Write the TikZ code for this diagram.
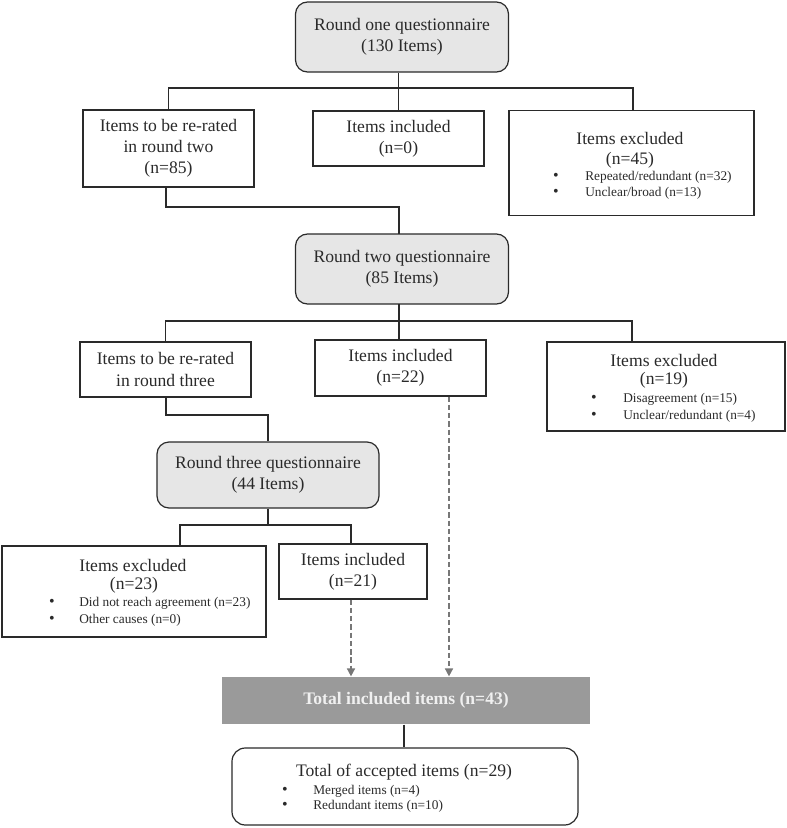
\documentclass[tikz,border=0pt]{standalone}
\usepackage{fontspec}
\setmainfont{Liberation Serif}
\usetikzlibrary{arrows.meta}
\definecolor{ink}{HTML}{2A2A2A}
\definecolor{qfill}{HTML}{E6E6E6}
\definecolor{totfill}{HTML}{9A9A9A}
\definecolor{dashc}{HTML}{777777}
\tikzset{
  box/.style={draw=ink, line width=0.9pt, inner sep=0pt, align=center, text=ink,
    font=\fontsize{13.2}{15.8}\selectfont},
  qbox/.style={box, fill=qfill, rounded corners=9pt},
  txt/.style={inner sep=0pt, text=ink, font=\fontsize{13.2}{15.8}\selectfont},
  bt/.style={inner sep=0pt, text=ink, font=\fontsize{10}{12}\selectfont},
  bul/.style={inner sep=0pt, text=ink, font=\fontsize{12}{12}\selectfont,
    text height=0.45em, text depth=0pt},
  conn/.style={draw=ink, line width=1.4pt},
  darr/.style={draw=dashc, line width=1.2pt, dash pattern=on 4pt off 2.2pt,
    -{Triangle[length=6pt,width=6pt]}},
}
\begin{document}
\begin{tikzpicture}[x=0.75pt,y=-0.75pt]
\useasboundingbox (0,0) rectangle (787,828);
% ---------- Round one ----------
\node[qbox, minimum width=213*0.75pt, minimum height=70*0.75pt] (r1) at (402,37)
  {Round one questionnaire\\(130 Items)};
\node[box, minimum width=171*0.75pt, minimum height=77*0.75pt] (a1) at (168.5,148.5)
  {Items to be re-rated\\in round two\\(n=85)};
\node[box, minimum width=171*0.75pt, minimum height=55*0.75pt] (i0) at (398.5,138.5)
  {Items included\\(n=0)};
\node[box, minimum width=245*0.75pt, minimum height=105*0.75pt] (e1) at (631.5,163) {};
\node[txt] (e1t) at (630,138) {Items excluded};
\node[txt] (e1n) at (630,160) {(n=45)};
\node[bul] (e1b1) at (556,177) {\textbullet};
\node[bt, anchor=west] (e1l1) at (585,177) {Repeated/redundant (n=32)};
\node[bul] (e1b2) at (556,193) {\textbullet};
\node[bt, anchor=west] (e1l2) at (585,193) {Unclear/broad (n=13)};
\coordinate (j1) at (398,88);
\draw[conn] (r1.south -| i0.north) -- (i0.north);
\draw[conn] (a1.north) -- (a1.north |- j1) -- (633,88) -- (633,111);
% ---------- Round two ----------
\node[qbox, minimum width=213*0.75pt, minimum height=70*0.75pt] (r2) at (402,269)
  {Round two questionnaire\\(85 Items)};
\coordinate (j2) at (166,207);
\draw[conn] (a1.south -| j2) -- (j2) -- (j2 -| 399,0) -- (399,234);
\node[box, minimum width=171*0.75pt, minimum height=55*0.75pt] (a2) at (165.5,369.5)
  {Items to be re-rated\\in round three};
\node[box, minimum width=171*0.75pt, minimum height=56*0.75pt] (i22) at (400.5,368)
  {Items included\\(n=22)};
\node[box, minimum width=238*0.75pt, minimum height=89*0.75pt] (e2) at (666,386.5) {};
\node[txt] (e2t) at (664,360) {Items excluded};
\node[txt] (e2n) at (664,380) {(n=19)};
\node[bul] (e2b1) at (594,399) {\textbullet};
\node[bt, anchor=west] (e2l1) at (623,399) {Disagreement (n=15)};
\node[bul] (e2b2) at (594,416) {\textbullet};
\node[bt, anchor=west] (e2l2) at (623,416) {Unclear/redundant (n=4)};
\coordinate (j3) at (399,321);
\draw[conn] (399,304) -- (399,340);
\draw[conn] (a2.north) -- (a2.north |- j3) -- (632,321) -- (632,342);
% ---------- Round three ----------
\node[qbox, minimum width=222*0.75pt, minimum height=66*0.75pt] (r3) at (268,475)
  {Round three questionnaire\\(44 Items)};
\coordinate (j4) at (166,415);
\draw[conn] (a2.south -| j4) -- (j4) -- (j4 -| r3.north) -- (r3.north);
\node[box, minimum width=264*0.75pt, minimum height=91*0.75pt] (e3) at (134,591.5) {};
\node[txt] (e3t) at (133,565) {Items excluded};
\node[txt] (e3n) at (134,585) {(n=23)};
\node[bul] (e3b1) at (52,603) {\textbullet};
\node[bt, anchor=west] (e3l1) at (79,603) {Did not reach agreement (n=23)};
\node[bul] (e3b2) at (52,620) {\textbullet};
\node[bt, anchor=west] (e3l2) at (79,620) {Other causes (n=0)};
\node[box, minimum width=148*0.75pt, minimum height=55*0.75pt] (i21) at (353,571.5)
  {Items included\\(n=21)};
\coordinate (j5) at (268,525);
\draw[conn] (r3.south) -- (j5);
\draw[conn] (180,546) -- (180,525) -- (351,525) -- (351,544);
% ---------- Totals ----------
\node[box, draw=none, fill=totfill, minimum width=368*0.75pt, minimum height=47*0.75pt,
  text=white!94!black, font=\fontsize{13.2}{15.8}\selectfont\bfseries] (tot) at (406,700.5)
  {Total included items (n=43)};
\draw[darr] (i21.south -| 351,0) -- (tot.north -| 351,0);
\draw[darr] (i22.south -| 449,0) -- (tot.north -| 449,0);
\node[box, rounded corners=10pt, minimum width=346*0.75pt, minimum height=77*0.75pt] (acc) at (405,786.5) {};
\node[txt] (acct) at (404,772) {Total of accepted items (n=29)};
\node[bul] (accb1) at (285,791) {\textbullet};
\node[bt, anchor=west] (accl1) at (313,791) {Merged items (n=4)};
\node[bul] (accb2) at (285,806) {\textbullet};
\node[bt, anchor=west] (accl2) at (313,806) {Redundant items (n=10)};
\draw[conn, line width=1pt] (tot.south -| 404,0) -- (acc.north -| 404,0);
\end{tikzpicture}
\end{document}
